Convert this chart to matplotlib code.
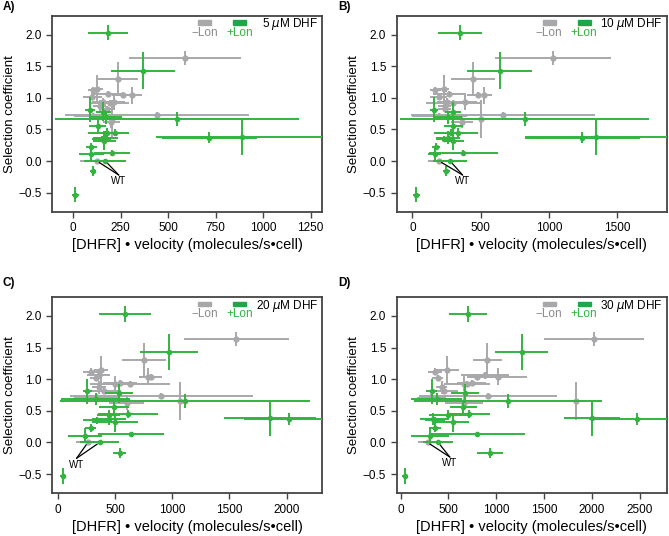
import matplotlib.pyplot as plt

plt.rcParams['font.family'] = ['Liberation Sans', 'DejaVu Sans']

GRAY = '#a8a8aa'
GREEN = '#33b440'

# +Lon mutants (same selection coefficients in every panel)
green_y = [2.03, 1.43, 0.66, 0.37, 0.38, -0.53, -0.16, 0.00, 0.13, 0.11,
           0.23, 0.81, 0.78, 0.69, 0.56, 0.45, 0.37, 0.32, 0.44, 0.35]
green_yerr = [0.12, 0.29, 0.11, 0.09, 0.28, 0.12, 0.08, 0.03, 0.04, 0.12,
              0.06, 0.20, 0.15, 0.10, 0.10, 0.06, 0.10, 0.15, 0.08, 0.05]

green_x_5 = [184, 368, 547, 717, 886, 12, 105, 170, 205, 95,
             96, 88, 158, 175, 130, 223, 170, 165, 180, 150]
green_xerr_5 = [105, 170, 640, 250, 450, 17, 18, 110, 95, 65,
                28, 25, 40, 80, 45, 70, 65, 60, 100, 50]
green_x_10 = [348, 639, 820, 1243, 1341, 27, 247, 276, 373, 162,
              172, 160, 295, 259, 300, 281, 259, 300, 330, 230]
green_xerr_10 = [163, 238, 910, 420, 520, 25, 25, 125, 250, 50,
                 30, 30, 60, 100, 70, 120, 90, 80, 150, 60]
green_x_20 = [586, 971, 1110, 2023, 1854, 44, 539, 364, 641, 236,
              286, 256, 533, 329, 490, 612, 446, 496, 446, 338]
green_xerr_20 = [225, 250, 1090, 400, 400, 30, 60, 170, 290, 150,
                 50, 40, 120, 300, 130, 260, 150, 200, 100, 120]
green_x_30 = [707, 1264, 1125, 2465, 2002, 45, 933, 393, 801, 306,
              359, 324, 672, 376, 655, 714, 341, 550, 498, 360]
green_xerr_30 = [200, 280, 980, 500, 290, 30, 135, 160, 500, 200,
                 60, 60, 150, 270, 140, 220, 140, 170, 200, 100]

# -Lon mutants
gray_y = [1.63, 1.30, 1.14, 1.12, 1.02, 1.06, 1.04, 1.04, 0.94, 0.92,
          0.87, 0.73, 0.66, 0.62, 0.71, 0.00, 0.82, 0.93]
gray_yerr = [0.11, 0.27, 0.22, 0.05, 0.05, 0.05, 0.13, 0.05, 0.05, 0.05,
             0.10, 0.05, 0.30, 0.10, 0.05, 0.02, 0.05, 0.12]

gray_x_5 = [588, 237, 126, 105, 100, 182, 310, 263, 158, 196,
            140, 442, 205, 202, 105, 126, 179, 214]
gray_xerr_5 = [295, 105, 30, 25, 50, 80, 50, 60, 60, 100,
               35, 485, 30, 45, 100, 90, 40, 60]
gray_x_10 = [1029, 445, 228, 167, 191, 269, 520, 482, 252, 300,
             235, 663, 499, 361, 196, 196, 235, 385]
gray_xerr_10 = [425, 160, 40, 40, 60, 120, 60, 80, 70, 200,
                50, 670, 30, 80, 200, 80, 50, 90]
gray_x_20 = [1560, 752, 379, 286, 329, 358, 787, 810, 542, 630,
             358, 904, 1067, 600, 344, 262, 400, 500]
gray_xerr_20 = [460, 190, 60, 70, 50, 100, 80, 100, 150, 350,
                60, 800, 40, 150, 200, 100, 150, 150]
gray_x_30 = [2023, 905, 481, 359, 387, 881, 1020, 794, 742, 690,
             428, 916, 1832, 662, 320, 282, 450, 660]
gray_xerr_30 = [520, 150, 130, 70, 60, 250, 300, 100, 150, 240,
                60, 720, 70, 200, 150, 100, 150, 150]

panel_labels = ['A)', 'B)', 'C)', 'D)']
dhf_labels = ['5 $\\mu$M DHF', '10 $\\mu$M DHF', '20 $\\mu$M DHF', '30 $\\mu$M DHF']
xlims = [(-110, 1310), (-115, 1860), (-50, 2310), (-40, 2780)]
xticks = [range(0, 1251, 250), range(0, 1501, 500), range(0, 2001, 500), range(0, 2501, 500)]
wt_text = [(240, -0.24), (367, -0.24), (163, -0.27), (515, -0.25)]

panels = [
    (gray_x_5, gray_xerr_5, green_x_5, green_xerr_5),
    (gray_x_10, gray_xerr_10, green_x_10, green_xerr_10),
    (gray_x_20, gray_xerr_20, green_x_20, green_xerr_20),
    (gray_x_30, gray_xerr_30, green_x_30, green_xerr_30),
]

# axes rectangles in figure fractions
positions = [
    (0.078, 0.605, 0.4035, 0.366),
    (0.593, 0.605, 0.4035, 0.366),
    (0.078, 0.080, 0.4035, 0.366),
    (0.593, 0.080, 0.4035, 0.366),
]
label_pos = [(0.004, 0.987), (0.505, 0.987), (0.004, 0.472), (0.505, 0.472)]

fig = plt.figure(figsize=(6.69, 5.36), dpi=100)

for i in range(4):
    ax = fig.add_axes(positions[i])
    gx, gxe, cx, cxe = panels[i]
    ax.errorbar(gx, gray_y, xerr=gxe, yerr=gray_yerr, fmt='o', color=GRAY,
                ms=3.5, elinewidth=1.4, capsize=0, zorder=2)
    ax.errorbar(cx, green_y, xerr=cxe, yerr=green_yerr, fmt='o', color=GREEN,
                ms=3, elinewidth=1.4, capsize=0, zorder=3)

    # WT annotation
    tx, ty = wt_text[i]
    wt_gray = gx[gray_y.index(0.00)]
    wt_green = cx[green_y.index(0.00)]
    for wx in (wt_gray, wt_green):
        ax.annotate('', xy=(wx, 0.0), xytext=(tx, ty + 0.02),
                    arrowprops=dict(arrowstyle='-', color='black', lw=0.9,
                                    shrinkA=0, shrinkB=2))
    ax.text(tx, ty, 'WT', fontsize=7, ha='center', va='top')

    ax.set_xlim(xlims[i])
    ax.set_ylim(-0.8, 2.3)
    ax.set_xticks(list(xticks[i]))
    ax.set_yticks([-0.5, 0.0, 0.5, 1.0, 1.5, 2.0])
    ax.set_yticklabels(['\u22120.5', '0.0', '0.5', '1.0', '1.5', '2.0'])
    ax.tick_params(labelsize=8.5, length=4, width=1, color='#444444')
    for s in ax.spines.values():
        s.set_linewidth(1.3)
        s.set_color('#444444')
    ax.set_ylabel('Selection coefficient', fontsize=9.5, labelpad=2)
    ax.set_xlabel('[DHFR] \u2022 velocity (molecules/s\u2022cell)', fontsize=10.5, labelpad=3)

    # legend swatches
    ax.add_patch(plt.Rectangle((0.541, 0.953), 0.048, 0.022, transform=ax.transAxes,
                               color=GRAY, clip_on=False))
    ax.add_patch(plt.Rectangle((0.670, 0.953), 0.048, 0.022, transform=ax.transAxes,
                               color='#1fa64a', clip_on=False))
    ax.text(0.565, 0.912, '\u2212Lon', color='#8a8a8c', fontsize=8.5,
            transform=ax.transAxes, ha='center', va='center')
    ax.text(0.694, 0.912, '+Lon', color=GREEN, fontsize=8.5,
            transform=ax.transAxes, ha='center', va='center')
    ax.text(0.985, 0.955, dhf_labels[i], fontsize=8.5,
            transform=ax.transAxes, ha='right', va='center')

    fig.text(label_pos[i][0], label_pos[i][1], panel_labels[i],
             fontsize=8.5, fontweight='bold', va='center')

fig.savefig('out.png', dpi=100)
